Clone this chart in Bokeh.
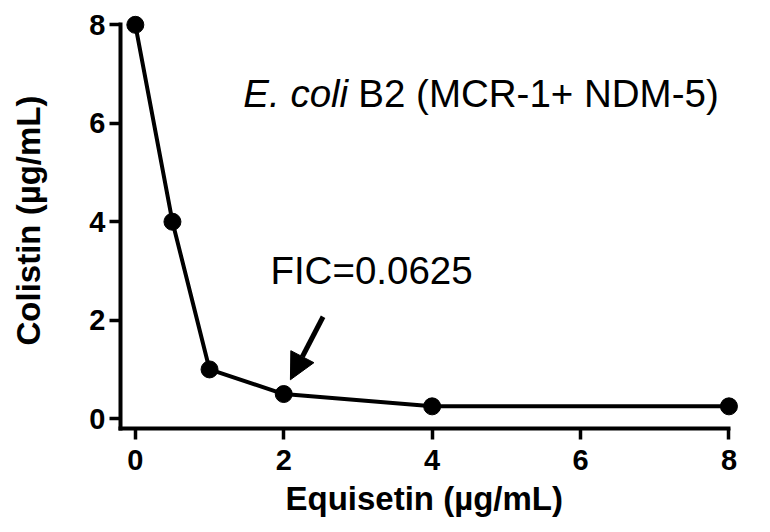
from bokeh.plotting import figure
from bokeh.models import Range1d, FixedTicker, Label, Arrow, NormalHead, Title
from bokeh.embed import file_html
from bokeh.resources import INLINE

# Data
equisetin = [0, 0.5, 1, 2, 4, 8]
colistin = [8, 4, 1, 0.5, 0.25, 0.25]
x_ticks = [0, 2, 4, 6, 8]
y_ticks = [0, 2, 4, 6, 8]

x_title = "Equisetin (µg/mL)"
y_title = "Colistin (µg/mL)"
title_italic = "E. coli"
title_rest = "B2 (MCR-1+ NDM-5)"
fic_text = "FIC=0.0625"

FONT = "Liberation Sans"

p = figure(width=770, height=532, output_backend="svg", toolbar_location=None,
           x_range=Range1d(-0.2, 8.25), y_range=Range1d(-0.2, 8.25))
p.min_border_left = 120
p.min_border_right = 23
p.min_border_top = 12
p.min_border_bottom = 104
p.outline_line_color = None
p.xgrid.visible = False
p.ygrid.visible = False
p.background_fill_color = "white"
p.border_fill_color = "white"

for ax, ticks in ((p.xaxis[0], x_ticks), (p.yaxis[0], y_ticks)):
    ax.ticker = FixedTicker(ticks=ticks)
    ax.bounds = (-0.2, 8)
    ax.axis_line_width = 4
    ax.axis_line_color = "black"
    ax.axis_line_cap = "square"
    ax.major_tick_line_width = 3.5
    ax.major_tick_line_color = "black"
    ax.major_tick_in = 0
    ax.major_tick_out = 11
    ax.minor_tick_line_color = None
    ax.major_label_text_font = FONT
    ax.major_label_text_font_style = "bold"
    ax.major_label_text_font_size = "29px"
    ax.major_label_text_color = "black"
    ax.axis_label_text_font = FONT
    ax.axis_label_text_font_style = "bold"
    ax.axis_label_text_font_size = "33px"
    ax.axis_label_text_color = "black"

p.xaxis[0].major_label_standoff = 10
p.yaxis[0].major_label_standoff = 4
p.yaxis[0].axis_label = y_title
p.yaxis[0].axis_label_standoff = 39

# x-axis title centred on the axis extent (as in the reference), not the frame
p.add_layout(Title(text=x_title, align="left", offset=165, standoff=10, vertical_align="bottom",
                   text_line_height=1.5,
                   text_font=FONT, text_font_style="bold", text_font_size="33px",
                   text_color="black"), "below")

p.line(equisetin, colistin, line_color="black", line_width=4)
p.scatter(equisetin, colistin, size=17, fill_color="black", line_color="black")

# Annotations
p.add_layout(Label(x=1.455, y=6.60, text=title_italic, text_font=FONT, text_font_style="italic",
                   text_font_size="38.5px", text_color="black", text_baseline="middle"))
p.add_layout(Label(x=1.455, y=6.60, x_offset=115, text=title_rest, text_font=FONT,
                   text_font_size="38.5px", text_color="black", text_baseline="middle"))
p.add_layout(Label(x=1.82, y=3.015, text=fic_text, text_font=FONT,
                   text_font_size="38.5px", text_color="black", text_baseline="middle"))

arrow_start = (2.53, 2.07)
arrow_end = (2.09, 0.79)
p.add_layout(Arrow(end=NormalHead(size=26, fill_color="black", line_color="black"),
                   x_start=arrow_start[0], y_start=arrow_start[1],
                   x_end=arrow_end[0], y_end=arrow_end[1],
                   line_width=5, line_color="black"))

open("out.html", "w").write(file_html(p, INLINE))
